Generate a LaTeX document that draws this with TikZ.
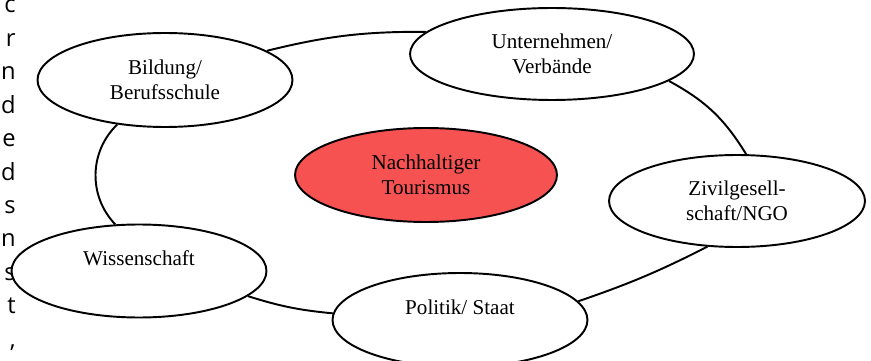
\documentclass[tikz,border=0pt]{standalone}
\usepackage{fontspec}
\setmainfont{Liberation Serif}
\newfontfamily\sidefont{Open Sans}
\usetikzlibrary{shapes.geometric}
\definecolor{tourismred}{RGB}{246,82,82}

\begin{document}
\begin{tikzpicture}[x=0.02cm, y=-0.02cm,
		field/.style={ellipse, draw, line width=1.1pt, fill=white, inner sep=0pt,
			align=center, font=\fontsize{12}{14.5}\selectfont,
			minimum width=5.1cm, minimum height=1.88cm},
		link/.style={line width=1.1pt}]
			\useasboundingbox (0,0) rectangle (871,361);
			\clip (0,0) rectangle (871,361);
			
			% line ends of the page text beside the figure
			\foreach \ch [count=\i from 0] in {c,r,n,d,e,d,s,n,s,t,{,}}
				\node[anchor=base east, inner sep=0pt, font=\sidefont\fontsize{13.5}{16}\selectfont] (side\i) at (16, 13+33.4*\i) {\ch};
			
			\node[field] (bildung) at (165, 80) {Bildung/\\Berufsschule};
			\node[field, minimum width=5.68cm, minimum height=1.84cm] (unternehmen) at (552, 54) {Unternehmen/\\Verbände};
			\node[field, fill=tourismred, minimum width=5.24cm] (tourismus) at (426, 175) {Nachhaltiger\\Tourismus};
			\node[field, minimum width=5.12cm, minimum height=1.84cm] (zivil) at (737, 201) {Zivilgesell-\\schaft/NGO};
			\node[field, minimum height=1.86cm] (wissen) at (139, 271) {Wissenschaft\\\mbox{}};
			\node[field] (politik) at (460, 320) {Politik/ Staat\\\mbox{}};
			
			\draw[link] (bildung.16) to[bend left=7] (unternehmen.170);
			\draw[link] (unternehmen.-13) to[bend left=15] (zivil.79);
			\draw[link] (zivil.-123) to[bend left=4] (politik.9);
			\draw[link] (politik.177) to[bend left=6] (wissen.-13);
			\draw[link] (wissen.117) to[bend left=45] (bildung.-137);
			
		\end{tikzpicture}
\end{document}
